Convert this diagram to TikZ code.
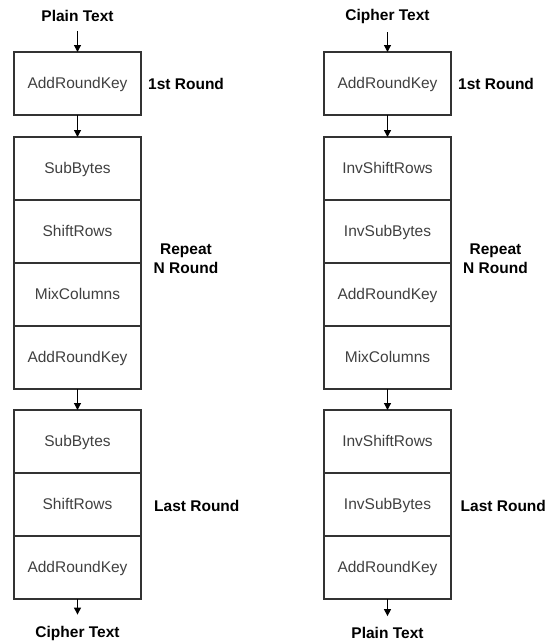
\documentclass[tikz,border=0pt]{standalone}
\usepackage{fontspec}
\setmainfont{Liberation Sans}
\usetikzlibrary{positioning,arrows.meta}

\definecolor{Edge}{HTML}{333333}
\definecolor{Word}{HTML}{404040}

\tikzset{
  cell/.style={draw=Edge, line width=1.5pt, minimum width=127pt, minimum height=63pt,
    inner sep=0pt, outer sep=0pt, text=Word, text height=10pt, text depth=0pt,
    font=\fontsize{15.5pt}{19pt}\selectfont},
  lab/.style={font=\bfseries\fontsize{15.5pt}{19pt}\selectfont, align=center, inner sep=0pt},
  flow/.style={-{Triangle[length=7pt,width=7pt]}, line width=1.2pt, draw=black}
}

\begin{document}
\begin{tikzpicture}[x=1pt, y=-1pt]

 \useasboundingbox (0,0) rectangle (547,643);

 %%%%%%%%%% Encryption %%%%%%%%%%
 \node[lab] (plainL) at (77.5,16) {Plain Text};
 \node[cell] (arkL) at (77.5,83.5) {AddRoundKey};

 \node[cell] (subL) at (77.5,168.5) {SubBytes};
 \node[cell, below=0pt of subL] (shiftL) {ShiftRows};
 \node[cell, below=0pt of shiftL] (mixL) {MixColumns};
 \node[cell, below=0pt of mixL] (arkmL) {AddRoundKey};

 \node[cell] (sublastL) at (77.5,441.5) {SubBytes};
 \node[cell, below=0pt of sublastL] (shiftlastL) {ShiftRows};
 \node[cell, below=0pt of shiftlastL] (arklastL) {AddRoundKey};
 \node[lab] (cipherL) at (77.5,633) {Cipher Text};

 % Arrows
 \draw[flow, shorten <=9pt] (plainL) -- (arkL);
 \draw[flow] (arkL) -- (subL);
 \draw[flow] (arkmL) -- (sublastL);
 \draw[flow, shorten >=11pt] (arklastL) -- (cipherL);

 %%%%%%%%%% Decryption %%%%%%%%%%
 \node[lab] (cipherR) at (387.5,16) {Cipher Text};
 \node[cell] (arkR) at (387.5,83.5) {AddRoundKey};

 \node[cell] (ishiftR) at (387.5,168.5) {InvShiftRows};
 \node[cell, below=0pt of ishiftR] (isubR) {InvSubBytes};
 \node[cell, below=0pt of isubR] (arkmR) {AddRoundKey};
 \node[cell, below=0pt of arkmR] (mixR) {MixColumns};

 \node[cell] (ishiftlastR) at (387.5,441.5) {InvShiftRows};
 \node[cell, below=0pt of ishiftlastR] (isublastR) {InvSubBytes};
 \node[cell, below=0pt of isublastR] (arklastR) {AddRoundKey};
 \node[lab] (plainR) at (387.5,633) {Plain Text};

 % Arrows
 \draw[flow, shorten <=9pt] (cipherR) -- (arkR);
 \draw[flow] (arkR) -- (ishiftR);
 \draw[flow] (mixR) -- (ishiftlastR);
 \draw[flow, shorten >=11pt] (arklastR) -- (plainR);

 %%%%%%%%%% Round labels %%%%%%%%%%
 \node[lab, anchor=west] (firstL) at (148,84) {1st Round};
 \node[lab] (repeatL) at (186,258.5) {Repeat\\N Round};
 \node[lab, anchor=west] (lastL) at (154,505.5) {Last Round};

 \node[lab, anchor=west] (firstR) at (458,84) {1st Round};
 \node[lab] (repeatR) at (495.5,258.5) {Repeat\\N Round};
 \node[lab, anchor=west] (lastR) at (460.5,505.5) {Last Round};

\end{tikzpicture}
\end{document}
